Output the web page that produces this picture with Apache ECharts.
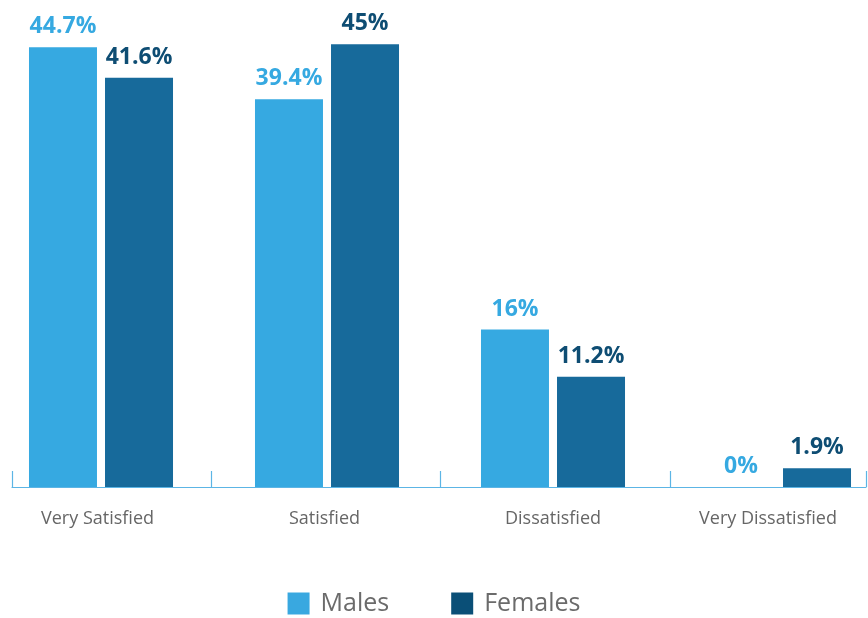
<!DOCTYPE html>
<html><head><meta charset="utf-8">
<script src="https://cdn.jsdelivr.net/npm/echarts@6/dist/echarts.min.js"></script>
<style>html,body{margin:0;padding:0;background:#fff}#c{width:868px;height:618px}</style>
</head><body><div id="c"></div>
<script>
const categories = ['Very Satisfied', 'Satisfied', 'Dissatisfied', 'Very Dissatisfied'];
const males = [44.7, 39.4, 16, 0];
const females = [41.6, 45, 11.2, 1.9];
const seriesNames = ['Males', 'Females'];
const axisTicks = [0, 199, 428, 658, 854];

const chart = echarts.init(document.getElementById('c'));
const font = '"Open Sans", "Noto Sans", sans-serif';
const labelPad = [[0, 7, 0, 0], [0, 5, 0, 0], [0, 0, 0, 0], [0, 22, 0, 0]];
chart.setOption({
  animation: false,
  legend: {
    data: [
      { name: seriesNames[0], itemStyle: { color: '#39A8E0' } },
      { name: seriesNames[1], itemStyle: { color: '#0A4F77' } }
    ],
    left: 'center', top: 586,
    itemWidth: 22, itemHeight: 22, itemGap: 62,
    icon: 'rect',
    textStyle: { fontFamily: font, fontSize: 25, color: '#6b6b6b', padding: [0, 0, 0, 6] }
  },
  grid: [
    { left: -12, width: 904, top: 0, bottom: 131, outerBoundsMode: 'none', containLabel: false },
    { left: 12, right: 2, top: 0, bottom: 131, outerBoundsMode: 'none', containLabel: false }
  ],
  xAxis: [
    {
      type: 'category', gridIndex: 0,
      data: categories.map((c, i) => ({ value: c, textStyle: { padding: labelPad[i] } })),
      axisLine: { show: false }, axisTick: { show: false },
      axisLabel: { margin: 23, fontFamily: font, fontSize: 18, color: '#666' }
    },
    {
      type: 'value', gridIndex: 1, min: 0, max: 854,
      splitLine: { show: false },
      axisLine: { show: true, lineStyle: { color: '#5CB5E5', width: 1.2 } },
      axisTick: { show: true, inside: true, length: 16, customValues: axisTicks, lineStyle: { color: '#5CB5E5', width: 1.2 } },
      axisLabel: { show: false }
    }
  ],
  yAxis: [
    { type: 'value', gridIndex: 0, min: 0, max: 49.5, show: false, splitLine: { show: false } },
    { type: 'value', gridIndex: 1, min: 0, max: 1, show: false, splitLine: { show: false } }
  ],
  series: [
    {
      name: seriesNames[0], type: 'bar', data: males, barWidth: 68, barGap: '11.8%',
      itemStyle: { color: '#36A9E1' },
      label: { show: true, position: 'top', distance: 9, formatter: '{c}%', fontFamily: font, fontWeight: 'bold', fontSize: 23, color: '#36A9E1' }
    },
    {
      name: seriesNames[1], type: 'bar', data: females, barWidth: 68,
      itemStyle: { color: '#176A9B' },
      label: { show: true, position: 'top', distance: 9, formatter: '{c}%', fontFamily: font, fontWeight: 'bold', fontSize: 23, color: '#0E4D73' }
    }
  ]
});
</script></body></html>
